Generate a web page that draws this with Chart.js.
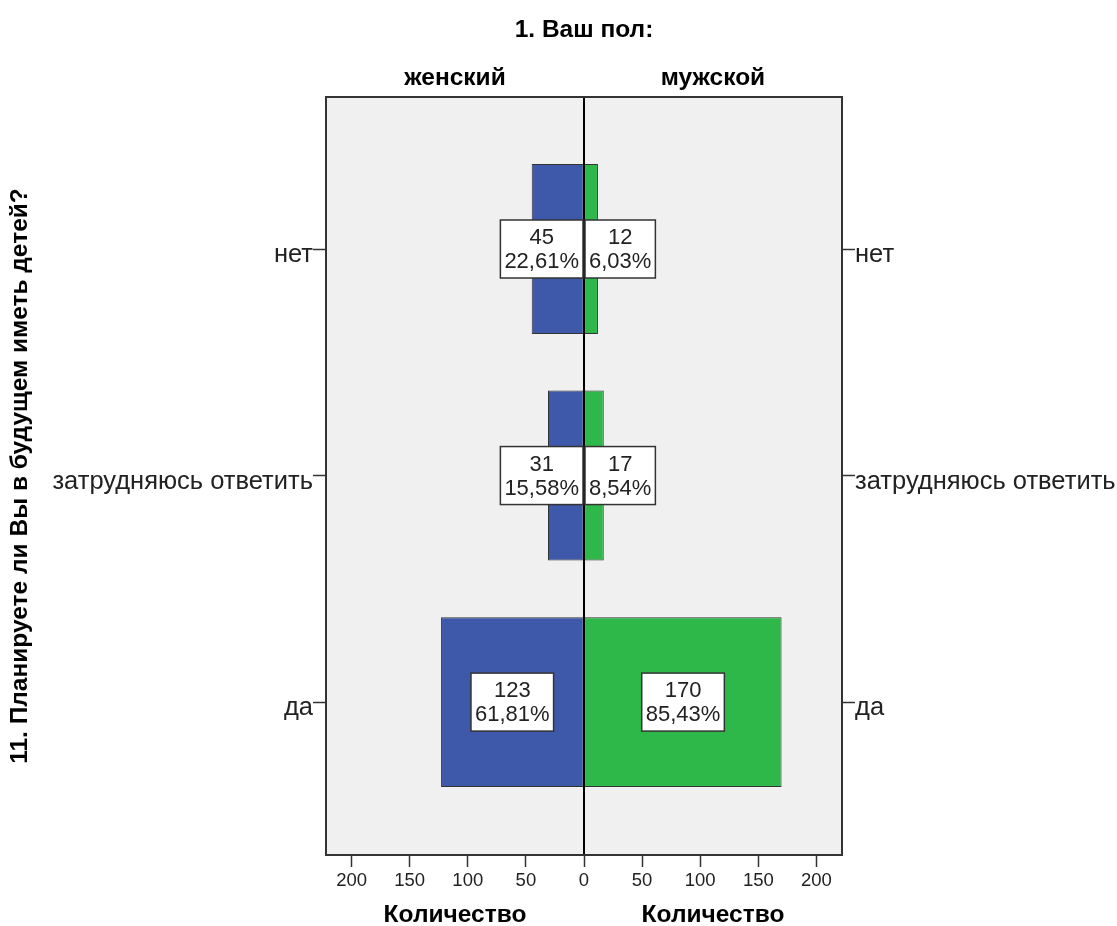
<!DOCTYPE html>
<html>
<head>
<meta charset="utf-8">
<script src="https://cdn.jsdelivr.net/npm/chart.js@4"></script>
<style>
  body { margin: 0; background: #fff; }
  #wrap { width: 1117px; height: 926px; }
</style>
</head>
<body>
<div id="wrap"><canvas id="pyr" width="1117" height="926"></canvas></div>
<script>
// data
var categories = ["нет", "затрудняюсь ответить", "да"];
var femaleCounts = [45, 31, 123];
var maleCounts = [12, 17, 170];
var femalePct = ["22,61%", "15,58%", "61,81%"];
var malePct = ["6,03%", "8,54%", "85,43%"];
var xTickValues = [-200, -150, -100, -50, 0, 50, 100, 150, 200];
var panelTitles = ["женский", "мужской"];

var FONT = "'Liberation Sans', Arial, sans-serif";

// female goes to the left (negative side)
var femaleData = femaleCounts.map(function (v, i) { return { x: -v, y: i }; });
var maleData = maleCounts.map(function (v, i) { return { x: v, y: i }; });

var framePlugin = {
  id: "frame",
  beforeDraw: function (chart) {
    var a = chart.chartArea, ctx = chart.ctx;
    ctx.save();
    ctx.fillStyle = "#f0f0f0";
    ctx.fillRect(a.left, a.top, a.right - a.left, a.bottom - a.top);
    ctx.restore();
  },
  afterDatasetsDraw: function (chart) {
    var a = chart.chartArea, ctx = chart.ctx;
    var x0 = chart.scales.x.getPixelForValue(0);
    ctx.save();
    // zero line over the bars
    ctx.strokeStyle = "#000";
    ctx.lineWidth = 2;
    ctx.beginPath();
    ctx.moveTo(x0, a.top);
    ctx.lineTo(x0, a.bottom);
    ctx.stroke();
    // frame
    ctx.strokeStyle = "#333";
    ctx.lineWidth = 2;
    ctx.strokeRect(a.left, a.top, a.right - a.left, a.bottom - a.top);

    // value boxes
    ctx.font = "22px " + FONT;
    ctx.textAlign = "center";
    ctx.textBaseline = "middle";
    [0, 1].forEach(function (di) {
      var meta = chart.getDatasetMeta(di);
      var counts = di === 0 ? femaleCounts : maleCounts;
      var pcts = di === 0 ? femalePct : malePct;
      meta.data.forEach(function (bar, i) {
        var l1 = String(counts[i]), l2 = pcts[i];
        var w = Math.max(ctx.measureText(l1).width, ctx.measureText(l2).width) + 8;
        var h = 58;
        var cx = (bar.x + bar.base) / 2;
        var left = cx - w / 2;
        if (di === 0 && left + w > x0 - 1) left = x0 - 1 - w;
        if (di === 1 && left < x0 + 1) left = x0 + 1;
        var top = bar.y - h / 2;
        ctx.fillStyle = "#fff";
        ctx.fillRect(left, top, w, h);
        ctx.strokeStyle = "#333";
        ctx.lineWidth = 1.5;
        ctx.strokeRect(left, top, w, h);
        ctx.fillStyle = "#222";
        ctx.fillText(l1, left + w / 2, top + h / 2 - 11);
        ctx.fillText(l2, left + w / 2, top + h / 2 + 13);
      });
    });
    ctx.restore();
  },
  afterDraw: function (chart) {
    var a = chart.chartArea, ctx = chart.ctx;
    var x0 = chart.scales.x.getPixelForValue(0);
    var leftMid = (a.left + x0) / 2, rightMid = (x0 + a.right) / 2;
    ctx.save();
    ctx.fillStyle = "#000";
    ctx.textAlign = "center";
    ctx.textBaseline = "middle";
    ctx.font = "bold 24.5px " + FONT;
    ctx.fillText("1. Ваш пол:", x0, 30);
    ctx.fillText(panelTitles[0], leftMid, 78);
    ctx.fillText(panelTitles[1], rightMid, 78);
    ctx.fillText("Количество", leftMid, 915);
    ctx.fillText("Количество", rightMid, 915);
    ctx.restore();
  }
};

var catTick = function (v) { return categories[v] !== undefined ? categories[v] : ""; };
var setCatTicks = function (s) { s.ticks = categories.map(function (c, i) { return { value: i }; }); };

new Chart(document.getElementById("pyr"), {
  type: "bar",
  data: {
    datasets: [
      {
        label: "женский",
        data: femaleData,
        backgroundColor: "#3e58aa",
        borderColor: "#333",
        borderWidth: 1,
        borderSkipped: false,
        barPercentage: 0.75,
        categoryPercentage: 1
      },
      {
        label: "мужской",
        data: maleData,
        backgroundColor: "#2eb84a",
        borderColor: "#333",
        borderWidth: 1,
        borderSkipped: false,
        barPercentage: 0.75,
        categoryPercentage: 1
      }
    ]
  },
  options: {
    indexAxis: "y",
    responsive: false,
    animation: false,
    layout: { padding: { top: 97, left: 0, right: 0, bottom: 0 } },
    plugins: { legend: { display: false }, tooltip: { enabled: false } },
    scales: {
      x: {
        type: "linear",
        stacked: true,
        min: -222,
        max: 222,
        afterBuildTicks: function (s) { s.ticks = xTickValues.map(function (v) { return { value: v }; }); },
        afterFit: function (s) { s.height = 71; },
        ticks: {
          color: "#222",
          font: { family: FONT, size: 18.5 },
          padding: 3,
          maxRotation: 0,
          callback: function (v) { return Math.abs(v); }
        },
        grid: {
          drawOnChartArea: false,
          tickLength: 12,
          tickColor: "#333",
          tickWidth: 1.5
        },
        border: { display: false }
      },
      y: {
        type: "linear",
        stacked: true,
        reverse: true,
        offset: false,
        min: -0.671,
        max: 2.675,
        position: "left",
        afterBuildTicks: setCatTicks,
        afterFit: function (s) { s.width = 326; },
        ticks: {
          color: "#222",
          font: { family: FONT, size: 25.5 },
          padding: 0,
          labelOffset: 6,
          callback: catTick
        },
        grid: {
          offset: false,
          drawOnChartArea: false,
          tickLength: 13,
          tickColor: "#333",
          tickWidth: 1.5
        },
        border: { display: false },
        title: {
          display: true,
          text: "11. Планируете ли Вы в будущем иметь детей?",
          color: "#000",
          font: { family: FONT, size: 24.5, weight: "bold" },
          padding: { top: 6, bottom: 0 }
        }
      },
      y2: {
        type: "linear",
        reverse: true,
        offset: false,
        min: -0.671,
        max: 2.675,
        position: "right",
        afterBuildTicks: setCatTicks,
        afterFit: function (s) { s.width = 275; },
        ticks: {
          color: "#222",
          font: { family: FONT, size: 25.5 },
          padding: 0,
          labelOffset: 6,
          callback: catTick
        },
        grid: {
          offset: false,
          drawOnChartArea: false,
          tickLength: 13,
          tickColor: "#333",
          tickWidth: 1.5
        },
        border: { display: false }
      }
    }
  },
  plugins: [framePlugin]
});
</script>
</body>
</html>
